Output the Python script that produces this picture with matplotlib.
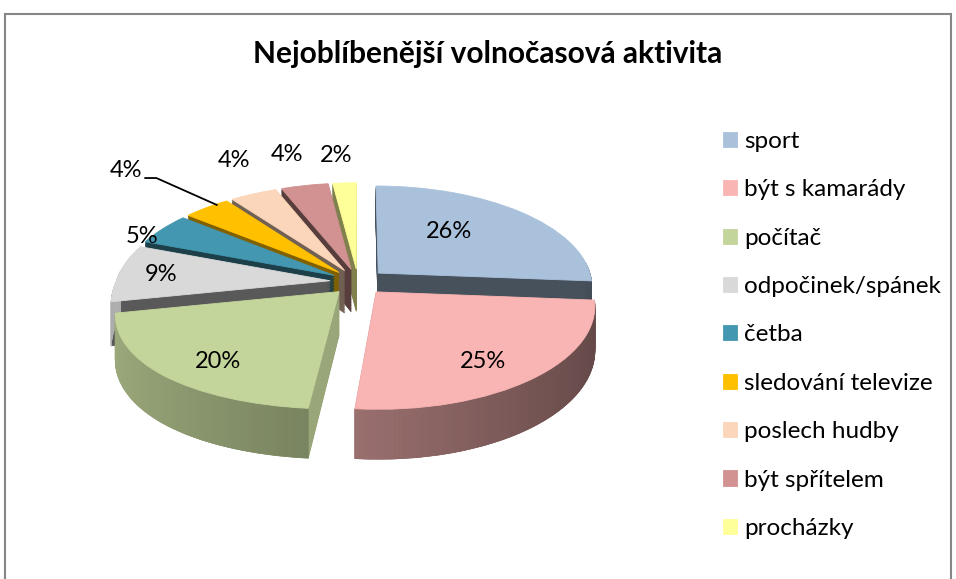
import numpy as np
import matplotlib
matplotlib.use("Agg")
import matplotlib.pyplot as plt
from matplotlib.colors import to_rgb
from matplotlib.patches import Rectangle
from matplotlib.collections import PolyCollection
from matplotlib.transforms import Transform

plt.rcParams['font.family'] = ['Lato', 'DejaVu Sans']

# Data
categories = ["sport", "být s kamarády", "počítač", "odpočinek/spánek", "četba",
              "sledování televize", "poslech hudby", "být spřítelem", "procházky"]
values = [26, 25, 20, 9, 5, 4, 4, 4, 2]
title = "Nejoblíbenější volnočasová aktivita"

# styling
colors = ["#AAC1DC", "#F9B5B3", "#C3D59B", "#D9D9D9", "#4397B0",
          "#FFC000", "#FBD6BA", "#D19291", "#FFFF99"]
shade = [0.42, 0.5, 0.78, 0.41, 0.42, 0.5, 0.45, 0.42, 0.5]   # radial walls
label_dist = [0.70, 0.90, 0.94, 0.93, 1.17, 1.81, 1.59, 1.56, 1.51]
label_shift = [7, -4, 2.6, 0, 6, 0.5, -3.7, 0, 1]   # degrees
explode = 0.13
depth = 0.43         # thickness of the pie
persp = 0.125        # strength of the perspective (depth direction)
persp_front = 0.2    # extra widening of the front left part
n_layers = 30


def project(X, Y, z=0.0):
    X = np.asarray(X, dtype=float)
    Y = np.asarray(Y, dtype=float)
    fy = 1.0 / (1.0 + persp * Y)
    kx = np.where((Y < 0) & (X < 0), persp_front, persp)
    fx = 1.0 / (1.0 + kx * Y)
    return X * fx, (Y - z) * fy


class Perspective(Transform):
    """3D look for the flat pie: back gets smaller, z lowers the layer."""
    input_dims = output_dims = 2

    def __init__(self, z=0.0):
        super().__init__()
        self.z = z

    def transform_non_affine(self, values):
        v = np.asarray(values, dtype=float)
        x, y = project(v[:, 0], v[:, 1], self.z)
        return np.column_stack([x, y])


fig = plt.figure(figsize=(9.56, 5.79), dpi=100)
ax = fig.add_axes([90 / 956, 79 / 579, 540 / 956, 370 / 579])

total = float(sum(values))
cum = np.cumsum([0] + values[:-1])
start = np.deg2rad(90 - 360 * cum / total)
end = np.deg2rad(90 - 360 * (cum + np.array(values)) / total)
mid = (start + end) / 2
# back slices are drawn first
rank = np.argsort(np.argsort(-np.sin(mid)))

side_colors = [tuple(c * s for c in to_rgb(col)) for col, s in zip(colors, shade)]

# stacked layers give the solid body, the last one is the top face
for k, z in enumerate(np.linspace(depth, 0, n_layers)):
    top = k == n_layers - 1
    wedges, _ = ax.pie(values, explode=[explode] * len(values),
                       colors=colors if top else side_colors,
                       startangle=90, counterclock=False,
                       wedgeprops=dict(linewidth=0.6))
    tr = Perspective(z) + ax.transData
    for i, w in enumerate(wedges):
        w.set_transform(tr)
        w.set_edgecolor(w.get_facecolor())
        w.set_zorder(rank[i] * 2 + (1.5 if top else 1.0))
    if top:
        top_wedges = wedges

# curved outer walls with a light-to-dark shading
for i in range(len(values)):
    ox, oy = explode * np.cos(mid[i]), explode * np.sin(mid[i])
    t = np.linspace(end[i], start[i], 90)
    quads, fcs = [], []
    for t0, t1 in zip(t[:-1], t[1:]):
        tm = (t0 + t1) / 2
        if np.sin(tm) > 0.1:
            continue
        X = ox + np.cos([t0, t1, t1, t0])
        Y = oy + np.sin([t0, t1, t1, t0])
        x, y = project(X, Y, np.array([0, 0, depth, depth]))
        quads.append(np.column_stack([x, y]))
        f = 0.60 - 0.2 * np.cos(tm)
        fcs.append(tuple(c * f for c in to_rgb(colors[i])))
    if quads:
        ax.add_collection(PolyCollection(quads, facecolors=fcs, edgecolors=fcs,
                                         linewidths=0.5, zorder=rank[i] * 2 + 1.2))

ax.set_aspect('auto')
ax.set_xlim(-268 / 214, 272 / 214)
ax.set_ylim(-218.2 / 100, 151.8 / 100)
ax.axis('off')

# percentage labels
for i, v in enumerate(values):
    a = mid[i] + np.deg2rad(label_shift[i])
    d = label_dist[i]
    X, Y = d * np.cos(a), d * np.sin(a)
    f = 1.0 / (1.0 + persp * Y)
    x, y = X * f, Y * f
    txt = "%d%%" % v
    if i == 5:
        b = mid[i] - np.deg2rad(3)
        tip = project(1.12 * np.cos(b), 1.12 * np.sin(b))
        ax.annotate(txt, xy=(float(tip[0]), float(tip[1])), xytext=(x, y),
                    fontsize=17, ha='center', va='center', zorder=50,
                    arrowprops=dict(arrowstyle='-', color='black', lw=1.3,
                                    relpos=(1.0, 0.12), shrinkA=0, shrinkB=0,
                                    connectionstyle="angle,angleA=0,angleB=-24,rad=0"))
    else:
        ax.text(x, y, txt, fontsize=17, ha='center', va='center', zorder=50)

fig.text(488 / 956, 1 - 63.5 / 579, title, fontsize=21.5, fontweight='bold',
         ha='center', va='baseline')

fig.legend(top_wedges, categories, loc='upper left',
           bbox_to_anchor=(723 / 956, 1 - 131 / 579), frameon=False,
           fontsize=17.5, handlelength=0.58, handleheight=0.58,
           handletextpad=0.3, labelspacing=1.126, borderpad=0, borderaxespad=0)

fig.patches.append(Rectangle((5 / 956, -0.05), 946 / 956, 1.05 - 14 / 579,
                             transform=fig.transFigure, fill=False,
                             edgecolor='#868686', linewidth=1.5))

fig.savefig("out.png", dpi=100)
